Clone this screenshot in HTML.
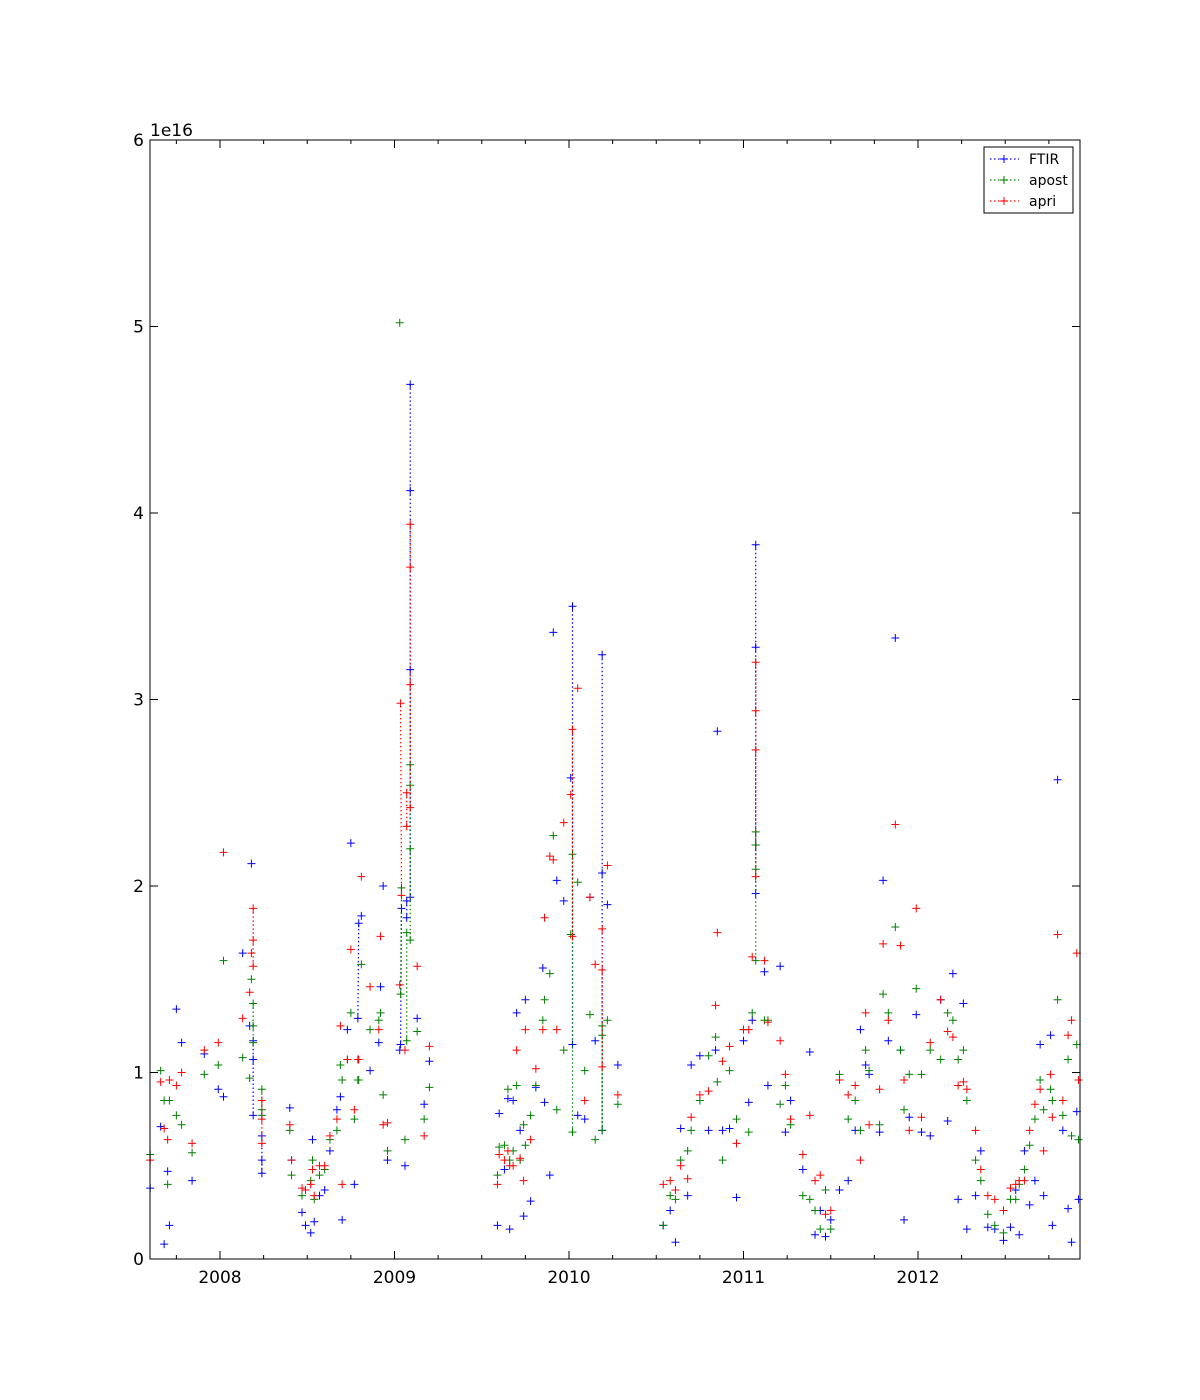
<!DOCTYPE html>
<html><head><meta charset="utf-8"><style>
body{margin:0;background:#fff;}
svg{display:block;font-family:"DejaVu Sans","Liberation Sans",sans-serif;}
</style></head><body>
<svg id="chart" width="1200" height="1400" viewBox="0 0 1200 1400" xmlns="http://www.w3.org/2000/svg">
<rect x="0" y="0" width="1200" height="1400" fill="#fff"/>
</svg>
<script>
const dates=[2007.60,2007.66,2007.68,2007.70,2007.71,2007.75,2007.78,2007.84,2007.91,2007.99,2008.02,2008.13,2008.17,2008.18,2008.19,2008.19,2008.19,2008.24,2008.24,2008.24,2008.40,2008.41,2008.47,2008.49,2008.52,2008.53,2008.54,2008.57,2008.60,2008.63,2008.67,2008.69,2008.70,2008.73,2008.75,2008.77,2008.79,2008.795,2008.81,2008.86,2008.91,2008.92,2008.935,2008.96,2009.03,2009.04,2009.035,2009.06,2009.07,2009.07,2009.09,2009.09,2009.09,2009.09,2009.13,2009.17,2009.20,2009.59,2009.60,2009.63,2009.65,2009.66,2009.68,2009.70,2009.72,2009.74,2009.75,2009.78,2009.81,2009.85,2009.86,2009.89,2009.91,2009.93,2009.97,2010.01,2010.02,2010.02,2010.05,2010.09,2010.12,2010.15,2010.19,2010.19,2010.19,2010.22,2010.28,2010.54,2010.58,2010.61,2010.64,2010.68,2010.70,2010.75,2010.80,2010.84,2010.85,2010.88,2010.92,2010.96,2011.00,2011.03,2011.05,2011.07,2011.07,2011.07,2011.07,2011.12,2011.14,2011.21,2011.24,2011.27,2011.34,2011.38,2011.41,2011.44,2011.47,2011.50,2011.55,2011.60,2011.64,2011.67,2011.70,2011.72,2011.78,2011.80,2011.83,2011.87,2011.90,2011.92,2011.95,2011.99,2012.02,2012.07,2012.13,2012.17,2012.20,2012.23,2012.26,2012.28,2012.33,2012.36,2012.40,2012.44,2012.49,2012.53,2012.56,2012.58,2012.61,2012.64,2012.67,2012.70,2012.72,2012.76,2012.77,2012.80,2012.83,2012.86,2012.88,2012.91,2012.92];
const ftir=[0.38,0.71,0.08,0.47,0.18,1.34,1.16,0.42,1.10,0.91,0.87,1.64,1.25,2.12,1.17,1.07,0.77,0.53,0.46,0.66,0.81,0.53,0.25,0.18,0.14,0.64,0.20,0.34,0.37,0.58,0.80,0.87,0.21,1.23,2.23,0.40,1.29,1.80,1.84,1.01,1.16,1.46,2.00,0.53,1.12,1.88,1.15,0.50,1.92,1.83,4.69,4.12,3.16,1.94,1.29,0.83,1.06,0.18,0.78,0.48,0.86,0.16,0.85,1.32,0.69,0.23,1.39,0.31,0.92,1.56,0.84,0.45,3.36,2.03,1.92,2.58,3.50,1.15,0.77,0.75,1.94,1.17,3.24,2.07,0.69,1.90,1.04,0.18,0.26,0.09,0.70,0.34,1.04,1.09,0.69,1.12,2.83,0.69,0.70,0.33,1.17,0.84,1.28,3.83,3.28,2.22,1.96,1.54,0.93,1.57,0.68,0.85,0.48,1.11,0.13,0.26,0.12,0.21,0.37,0.42,0.69,1.23,1.04,0.99,0.68,2.03,1.17,3.33,1.12,0.21,0.76,1.31,0.68,0.66,1.39,0.74,1.53,0.32,1.37,0.16,0.34,0.58,0.17,0.16,0.10,0.17,0.37,0.13,0.58,0.29,0.42,1.15,0.34,1.20,0.18,2.57,0.69,0.27,0.09,0.79,0.32];
const apost=[0.56,1.01,0.85,0.40,0.85,0.77,0.72,0.57,0.99,1.04,1.60,1.08,0.97,1.50,1.37,1.25,1.16,0.91,0.77,0.80,0.69,0.45,0.34,0.37,0.42,0.53,0.32,0.45,0.48,0.64,0.69,1.04,0.96,1.07,1.32,0.75,0.96,0.96,1.58,1.23,1.28,1.32,0.88,0.58,5.02,1.99,1.42,0.64,1.17,1.75,2.65,2.54,2.20,1.71,1.22,0.75,0.92,0.45,0.60,0.61,0.91,0.53,0.58,0.93,0.53,0.72,0.61,0.77,0.93,1.28,1.39,1.53,2.27,0.80,1.12,1.74,2.17,0.68,2.02,1.01,1.31,0.64,1.25,0.69,1.20,1.28,0.83,0.18,0.34,0.32,0.53,0.58,0.69,0.85,1.09,1.19,0.95,0.53,1.01,0.75,1.23,0.68,1.32,2.29,2.22,2.09,1.60,1.28,1.28,0.83,0.93,0.72,0.34,0.32,0.26,0.16,0.37,0.16,0.99,0.75,0.85,0.69,1.12,1.01,0.72,1.42,1.32,1.78,1.12,0.80,0.99,1.45,0.99,1.12,1.07,1.32,1.28,1.07,1.12,0.85,0.53,0.42,0.24,0.18,0.14,0.32,0.32,0.40,0.48,0.61,0.75,0.96,0.80,0.91,0.85,1.39,0.77,1.07,0.66,1.15,0.64];
const apri=[0.53,0.95,0.70,0.64,0.96,0.93,1.00,0.62,1.12,1.16,2.18,1.29,1.43,1.64,1.88,1.71,1.57,0.85,0.75,0.62,0.72,0.53,0.38,0.37,0.40,0.48,0.34,0.50,0.50,0.66,0.75,1.25,0.40,1.07,1.66,0.80,1.07,1.07,2.05,1.46,1.23,1.73,0.72,0.73,1.47,1.95,2.98,1.12,2.50,2.32,3.94,3.71,3.08,2.42,1.57,0.66,1.14,0.40,0.56,0.53,0.58,0.50,0.50,1.12,0.54,0.42,1.23,0.64,1.02,1.23,1.83,2.16,2.14,1.23,2.34,2.49,2.84,1.73,3.06,0.85,1.94,1.58,1.77,1.55,1.03,2.11,0.88,0.40,0.42,0.37,0.50,0.43,0.76,0.88,0.90,1.36,1.75,1.06,1.14,0.62,1.23,1.23,1.62,3.20,2.94,2.73,2.05,1.60,1.27,1.17,0.99,0.75,0.56,0.77,0.42,0.45,0.24,0.26,0.96,0.88,0.93,0.53,1.32,0.72,0.91,1.69,1.28,2.33,1.68,0.96,0.69,1.88,0.76,1.16,1.39,1.22,1.19,0.93,0.95,0.91,0.69,0.48,0.34,0.32,0.26,0.38,0.40,0.42,0.42,0.69,0.83,0.91,0.58,0.99,0.76,1.74,0.85,1.20,1.28,1.64,0.96];
const yTicks=[0,1,2,3,4,5,6];
const xTicks=[2008,2009,2010,2011,2012];
const seriesNames=["FTIR","apost","apri"];
const seriesColors=["#0000ff","#008000","#ff0000"];

const L=150,R=1080,T=140,B=1259;
const X0=2007.6,X1=2008+(1080-220)/174.5;
function xs(v){return 220+(v-2008)*174.5;}
function ys(v){return B-(v-0)*(B-T)/6;}
const svg=document.getElementById('chart');
const NS="http://www.w3.org/2000/svg";
function mk(tag,attrs,parent){const e=document.createElementNS(NS,tag);for(const k in attrs)e.setAttribute(k,attrs[k]);(parent||svg).appendChild(e);return e;}

const plot=mk('g',{});



[ftir,apost,apri].forEach((vals,si)=>{
  const g=mk('g',{},plot);
  
  
  const col=seriesColors[si];
  for(let i=1;i<dates.length;i++){
    if(Math.abs(dates[i]-dates[i-1])<0.006){
      const ln=mk('line',{x1:xs(dates[i-1]),y1:ys(vals[i-1]),x2:xs(dates[i]),y2:ys(vals[i]),stroke:col,'stroke-width':1.2,'stroke-dasharray':'1.5,2.5'},g);
      
      
    }
  }
  for(let i=0;i<dates.length;i++){
    const x=xs(dates[i]),y=ys(vals[i]);
    if(x<L-1||x>R+1)continue;
    const p=mk('path',{d:`M${x-4},${y}H${x+4}M${x},${y-4}V${y+4}`,stroke:col,'stroke-width':1,fill:'none'},g);
    
    
  }
});

const frame=mk('rect',{x:L,y:T,width:R-L,height:B-T,fill:'none',stroke:'#000','stroke-width':1});



const axes=mk('g',{stroke:'#000','stroke-width':1});


yTicks.forEach(v=>{
  const y=ys(v);
  mk('line',{x1:L,y1:y,x2:L+8,y2:y},axes);
  mk('line',{x1:R,y1:y,x2:R-8,y2:y},axes);
  const t=mk('text',{x:L-6,y:y+6,'text-anchor':'end','font-size':17,fill:'#000',stroke:'none'});
  t.textContent=v;
  
  
});
for(let yr=2007;yr<=2013;yr++){
  for(let q=0;q<4;q++){
    const x=xs(yr+q*0.25);
    if(x<L||x>R)continue;
    const len=q===0?8:4;
    mk('line',{x1:x,y1:B,x2:x,y2:B-len},axes);
    mk('line',{x1:x,y1:T,x2:x,y2:T+len},axes);
  }
}
xTicks.forEach(v=>{
  const t=mk('text',{x:xs(v),y:B+24,'text-anchor':'middle','font-size':17,fill:'#000'});
  t.textContent=v;
  
  
});
const off=mk('text',{x:L,y:T-4,'font-size':17,fill:'#000'});
off.textContent='1e16';



const lg=mk('g',{});


mk('rect',{x:984,y:147,width:89,height:66,fill:'#fff',stroke:'#000','stroke-width':1},lg);
seriesNames.forEach((n,i)=>{
  const y=159+i*21,col=seriesColors[i];
  const e=mk('g',{},lg);
  
  
  mk('line',{x1:990,y1:y,x2:1019,y2:y,stroke:col,'stroke-width':1.2,'stroke-dasharray':'1.5,2.5'},e);
  mk('path',{d:`M1000,${y}H1008M1004,${y-4}V${y+4}`,stroke:col,'stroke-width':1},e);
  const t=mk('text',{x:1029,y:y+5,'font-size':14,fill:'#000'},e);
  t.textContent=n;
});
</script>
</body></html>
